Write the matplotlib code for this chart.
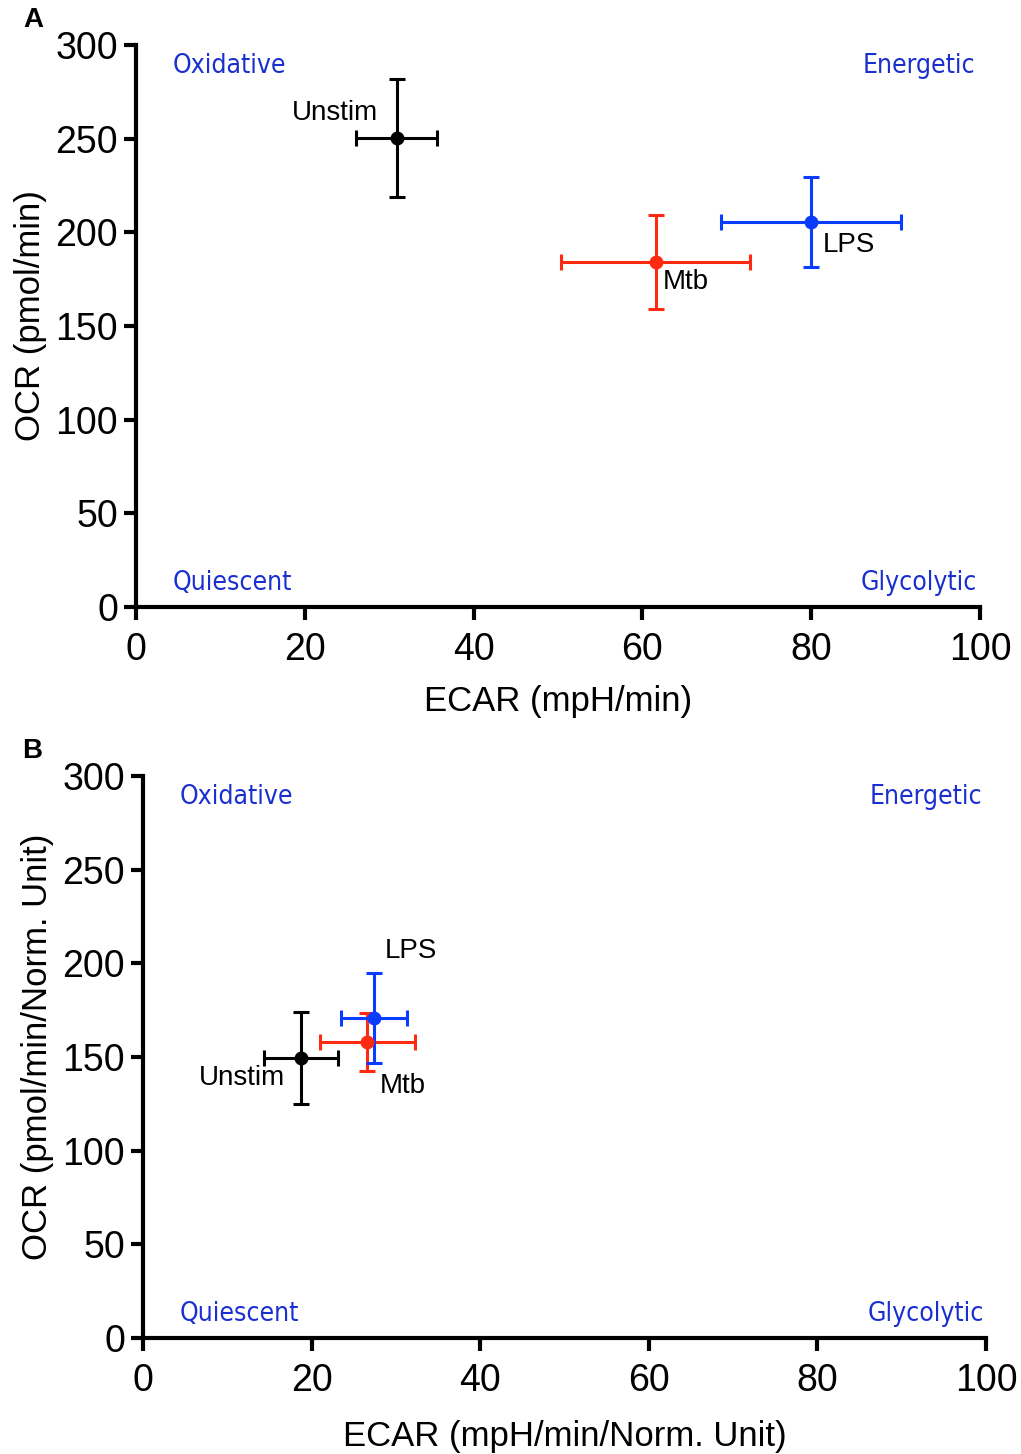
import matplotlib
matplotlib.use("Agg")
from matplotlib import pyplot as plt

plt.rcParams['font.family'] = ['Liberation Sans', 'DejaVu Sans']

groups = ["Unstim", "Mtb", "LPS"]
colors = ["black", "#ff2a12", "#0a3cff"]

# panel A: raw
ecar_a = [30.9, 61.6, 80.0]
ecar_a_err = [4.8, 11.2, 10.7]
ocr_a = [250.4, 184.2, 205.6]
ocr_a_err = [31.5, 25.0, 24.0]
lab_a = [(28.7, 263.7, "right"), (62.4, 173.5, "left"), (81.4, 193.3, "left")]

# panel B: normalized
ecar_b = [18.7, 26.6, 27.4]
ecar_b_err = [4.4, 5.6, 3.9]
ocr_b = [149.5, 158.0, 170.8]
ocr_b_err = [24.5, 15.5, 24.0]
lab_b = [(16.8, 138.8, "right"), (28.1, 134.5, "left"), (28.7, 206.6, "left")]

quad_color = "#1a2fd0"


def panel(ax, x, xe, y, ye, labs, xlabel, ylabel, xpad):
    for i in range(3):
        ax.errorbar(x[i], y[i], xerr=xe[i], yerr=ye[i], fmt="o", color=colors[i],
                    ms=9, elinewidth=2.2, capsize=6, capthick=2.2, zorder=3, clip_on=False)
        lx, ly, ha = labs[i]
        ax.text(lx, ly, groups[i], ha=ha, va="center", fontsize=20, color="black")
    ax.set_xlim(0, 100)
    ax.set_ylim(0, 300)
    ax.set_xticks([0, 20, 40, 60, 80, 100])
    ax.set_yticks([0, 50, 100, 150, 200, 250, 300])
    for s in ["top", "right"]:
        ax.spines[s].set_visible(False)
    for s in ["left", "bottom"]:
        ax.spines[s].set_linewidth(3)
    ax.tick_params(width=3, length=9, labelsize=27)
    ax.tick_params(axis="x", pad=9)
    ax.tick_params(axis="y", pad=4)
    ax.set_xlabel(xlabel, fontsize=25, labelpad=xpad)
    ax.set_ylabel(ylabel, fontsize=25, labelpad=6)
    ax.yaxis.label.set_y(0.518)
    qf = dict(fontsize=19, color=quad_color, va="center",
              family=["DejaVu Sans"], stretch="condensed")
    ax.text(4.3, 289, "Oxidative", ha="left", **qf)
    ax.text(99.5, 289, "Energetic", ha="right", **qf)
    ax.text(4.3, 12.8, "Quiescent", ha="left", **qf)
    ax.text(99.7, 12.8, "Glycolytic", ha="right", **qf)
    return ax


fig = plt.figure(figsize=(10.21, 14.54), dpi=100)
ax1 = fig.add_axes([0.1332, 0.5825, 0.8266, 0.3865])
ax2 = fig.add_axes([0.1401, 0.0798, 0.8257, 0.3865])
panel(ax1, ecar_a, ecar_a_err, ocr_a, ocr_a_err, lab_a, "ECAR (mpH/min)", "OCR (pmol/min)", 12)
panel(ax2, ecar_b, ecar_b_err, ocr_b, ocr_b_err, lab_b, "ECAR (mpH/min/Norm. Unit)",
      "OCR (pmol/min/Norm. Unit)", 15)
fig.text(33 / 1021, 1 - 20 / 1454, "A", fontsize=20, fontweight="bold", ha="center", va="center")
fig.text(32 / 1021, 1 - 751 / 1454, "B", fontsize=20, fontweight="bold", ha="center", va="center")

fig.savefig("out.png", dpi=100)
